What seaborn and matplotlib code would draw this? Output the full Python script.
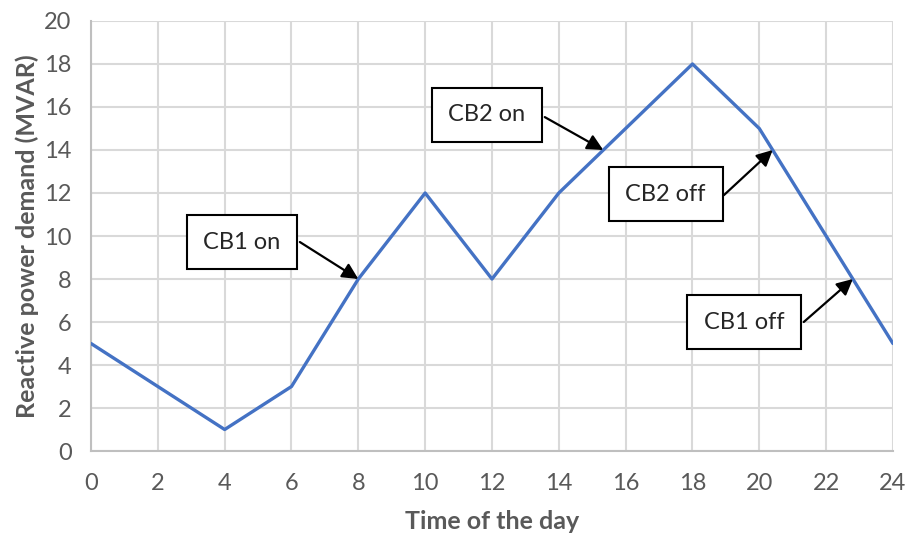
import matplotlib
matplotlib.use("Agg")
import matplotlib.pyplot as plt
import seaborn as sns
import pandas as pd

# Hourly reactive power demand profile
hours = [0, 2, 4, 6, 8, 10, 12, 14, 16, 18, 20, 22, 24]
demand_mvar = [5, 3, 1, 3, 8, 12, 8, 12, 15, 18, 15, 10, 5]

# Capacitor bank switching events: label, arrow tip on the curve (hour, MVAR)
event_labels = ["CB1 on", "CB2 on", "CB2 off", "CB1 off"]
event_hours = [8.0, 15.33, 20.4, 22.8]
event_mvar = [8.0, 14.0, 14.0, 8.0]
# Label box centre and arrow tail (data coordinates)
label_pos = [(4.52, 9.72), (11.85, 15.63), (17.2, 11.95), (19.54, 6.0)]
tail_pos = [(6.25, 9.72), (13.58, 15.53), (18.94, 11.9), (21.33, 6.0)]

sns.set_theme(style="whitegrid")
plt.rcParams["font.family"] = ["Lato", "DejaVu Sans"]

df = pd.DataFrame({"hour": hours, "mvar": demand_mvar})

fig = plt.figure(figsize=(9.11, 5.34), dpi=100)
ax = fig.add_axes([0.0999, 0.1554, 0.8803, 0.8053])

sns.lineplot(data=df, x="hour", y="mvar", ax=ax, color="#4472C4",
             linewidth=2.4, zorder=3)

ax.set_xlim(0, 24)
ax.set_ylim(0, 20)
ax.set_xticks(range(0, 25, 2))
ax.set_yticks(range(0, 21, 2))
ax.grid(True, color="#d9d9d9", linewidth=1.5)
ax.set_axisbelow(True)
for side in ["top", "right"]:
    ax.spines[side].set_visible(False)
for side in ["left", "bottom"]:
    ax.spines[side].set_color("#bfbfbf")
    ax.spines[side].set_linewidth(1.5)

ax.tick_params(axis="both", labelsize=17, colors="#595959", length=0)
ax.tick_params(axis="x", pad=16)
ax.tick_params(axis="y", pad=14)

ax.set_xlabel("Time of the day", fontsize=18, fontweight="bold",
              color="#595959", labelpad=11)
ax.set_ylabel("Reactive power demand (MVAR)", fontsize=18, fontweight="bold",
              color="#595959", labelpad=4)

for label, tx, ty, (cx, cy), (ax0, ay0) in zip(event_labels, event_hours,
                                               event_mvar, label_pos, tail_pos):
    ax.text(cx, cy, label, ha="center", va="center", fontsize=17,
            color="#262626", zorder=5,
            bbox=dict(boxstyle="square,pad=0.7", facecolor="white",
                      edgecolor="black", linewidth=1.5))
    ax.annotate("", xy=(tx, ty), xytext=(ax0, ay0), zorder=6,
                arrowprops=dict(arrowstyle="-|>,head_length=0.8,head_width=0.4",
                                color="black", linewidth=1.6,
                                shrinkA=0, shrinkB=0))

fig.savefig("out.png", dpi=100)
